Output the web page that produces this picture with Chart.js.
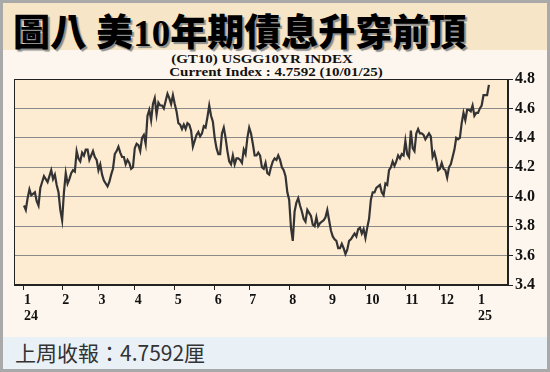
<!DOCTYPE html>
<html>
<head>
<meta charset="utf-8">
<script src="https://cdn.jsdelivr.net/npm/chart.js@4.4.1/dist/chart.umd.min.js"></script>
<style>
  html, body { margin: 0; padding: 0; background: #fff; }
  #frame { position: relative; width: 544px; height: 366px; border: 3px solid #a9a9a9; background: #fdf6ee; overflow: hidden; }
  #head { position: absolute; left: 0; top: 0; width: 544px; height: 47px; background: #f6e6c7; }
  #head h1 { margin: 0; position: absolute; left: 10px; top: 0; line-height: 47px; white-space: nowrap;
    font: 900 37px "Liberation Serif", "Noto Sans CJK TC", serif; color: #000; text-shadow: 2px 2px 1px #8c8c8c; }
  .sub { position: absolute; white-space: nowrap; font: 700 15px/1 "Liberation Serif", serif; color: #111;
    transform: translateX(-50%) scaleY(0.85); }
  #wrap { position: absolute; left: 0; top: 47px; width: 544px; height: 287px; }
  #foot { position: absolute; left: 0; top: 334px; width: 544px; height: 32px; background: #e9f1f7; }
  #foot span { position: absolute; left: 12px; top: 0; line-height: 32px; font: 400 21px "Noto Sans CJK TC", sans-serif; color: #333; }
</style>
</head>
<body>
<div id="frame">
  <div id="head"><h1>圖八 美10年期債息升穿前頂</h1></div>
  <div class="sub" style="left:259px;top:49px;">(GT10) USGG10YR INDEX</div>
  <div class="sub" style="left:273px;top:62px;">Current Index : 4.7592 (10/01/25)</div>
  <div id="wrap"><canvas id="c" width="544" height="287"></canvas></div>
  <div id="foot"><span>上周收報：4.7592厘</span></div>
</div>
<script>
// daily closes, one array per month (trading days)
const jan24 = [3.94, 3.91, 3.99, 4.05, 4.01, 4.02, 4.03, 3.97, 3.94, 4.06, 4.10, 4.14, 4.12, 4.10, 4.14, 4.18, 4.12, 4.15, 4.08, 4.03, 3.91];
const feb24 = [3.84, 4.03, 4.16, 4.09, 4.12, 4.16, 4.18, 4.17, 4.31, 4.26, 4.24, 4.30, 4.28, 4.32, 4.32, 4.25, 4.28, 4.31, 4.27, 4.25];
const mar24 = [4.18, 4.22, 4.15, 4.11, 4.09, 4.07, 4.10, 4.15, 4.19, 4.29, 4.31, 4.34, 4.30, 4.27, 4.27, 4.22, 4.25, 4.23, 4.19, 4.20];
const apr24 = [4.33, 4.36, 4.35, 4.31, 4.40, 4.42, 4.36, 4.55, 4.59, 4.52, 4.63, 4.67, 4.56, 4.64, 4.62, 4.62, 4.60, 4.65, 4.70, 4.67, 4.63, 4.69];
const may24 = [4.63, 4.58, 4.50, 4.49, 4.46, 4.49, 4.46, 4.50, 4.49, 4.45, 4.34, 4.38, 4.42, 4.44, 4.41, 4.43, 4.48, 4.47, 4.54, 4.62, 4.55, 4.51];
const jun24 = [4.40, 4.33, 4.29, 4.29, 4.43, 4.47, 4.40, 4.31, 4.24, 4.22, 4.28, 4.22, 4.26, 4.26, 4.25, 4.23, 4.32, 4.29, 4.40];
const jul24 = [4.47, 4.43, 4.36, 4.28, 4.28, 4.30, 4.28, 4.20, 4.19, 4.23, 4.16, 4.15, 4.20, 4.24, 4.26, 4.25, 4.28, 4.25, 4.20, 4.18, 4.14, 4.03];
const aug24 = [3.98, 3.79, 3.70, 3.90, 3.96, 3.99, 3.94, 3.90, 3.85, 3.83, 3.91, 3.89, 3.87, 3.81, 3.80, 3.86, 3.80, 3.82, 3.83, 3.84, 3.86, 3.91];
const sep24 = [3.84, 3.77, 3.73, 3.71, 3.70, 3.65, 3.65, 3.68, 3.65, 3.61, 3.64, 3.70, 3.71, 3.73, 3.75, 3.73, 3.78, 3.79, 3.75, 3.78];
const oct24 = [3.72, 3.79, 3.85, 3.98, 4.03, 4.03, 4.06, 4.07, 4.08, 4.03, 4.01, 4.09, 4.08, 4.18, 4.20, 4.24, 4.21, 4.24, 4.28, 4.26, 4.29, 4.28];
const nov24 = [4.38, 4.29, 4.27, 4.45, 4.33, 4.31, 4.43, 4.46, 4.43, 4.43, 4.42, 4.39, 4.41, 4.43, 4.41, 4.27, 4.30, 4.25, 4.18];
const dec24 = [4.19, 4.23, 4.19, 4.18, 4.13, 4.20, 4.22, 4.27, 4.32, 4.40, 4.39, 4.40, 4.50, 4.57, 4.52, 4.59, 4.59, 4.58, 4.62, 4.55, 4.57];
const jan25 = [4.57, 4.60, 4.62, 4.69, 4.69, 4.69, 4.76];

const monthLabels = ['1', '2', '3', '4', '5', '6', '7', '8', '9', '10', '11', '12', '1'];
const yearLabels = ['24', '', '', '', '', '', '', '', '', '', '', '', '25'];
const yTicks = [3.4, 3.6, 3.8, 4.0, 4.2, 4.4, 4.6, 4.8];

const months = [jan24, feb24, mar24, apr24, may24, jun24, jul24, aug24, sep24, oct24, nov24, dec24, jan25];
const monthStarts = [];
const points = [];
months.forEach(m => {
  monthStarts.push(points.length);
  m.forEach(v => points.push({ x: points.length, y: v }));
});

const plotFrame = {
  id: 'plotFrame',
  beforeDraw(chart) {
    const { ctx, chartArea: a } = chart;
    ctx.save();
    ctx.fillStyle = '#fdebd2';
    ctx.fillRect(a.left, a.top, a.width, a.height);
    ctx.restore();
  },
  afterDraw(chart) {
    const { ctx, chartArea: a } = chart;
    ctx.save();
    ctx.strokeStyle = '#222';
    ctx.lineWidth = 1;
    ctx.strokeRect(a.left + 0.5, a.top + 0.5, a.width - 1, a.height - 1);
    ctx.restore();
  }
};

const serif = 'Liberation Serif';

new Chart(document.getElementById('c'), {
  type: 'line',
  data: {
    datasets: [{
      data: points,
      borderColor: '#333',
      borderWidth: 2.2,
      pointRadius: 0,
      tension: 0
    }]
  },
  options: {
    responsive: false,
    animation: false,
    devicePixelRatio: 1,
    layout: { padding: { left: 11, top: 29, right: 0, bottom: 0 } },
    plugins: { legend: { display: false }, tooltip: { enabled: false } },
    scales: {
      x: {
        type: 'linear',
        min: -5.5,
        max: 266.5,
        afterBuildTicks: axis => { axis.ticks = monthStarts.map(v => ({ value: v })); },
        afterFit: s => { s.height = 52; },
        grid: { drawOnChartArea: false, drawTicks: true, tickLength: 5, tickColor: '#222' },
        border: { color: '#222' },
        ticks: {
          autoSkip: false,
          maxRotation: 0,
          align: 'start',
          padding: 2,
          color: '#111',
          font: { family: serif, weight: 'bold', size: 14, lineHeight: 1.15 },
          callback: (v, i) => yearLabels[i] ? [monthLabels[i], yearLabels[i]] : monthLabels[i]
        }
      },
      y: {
        position: 'right',
        min: 3.4,
        max: 4.8,
        afterBuildTicks: axis => { axis.ticks = yTicks.map(v => ({ value: v })); },
        afterFit: s => { s.width = 39; },
        grid: { color: '#8a8a8a', borderDash: [1, 3], tickColor: '#222', tickLength: 5, tickBorderDash: [] },
        border: { color: '#222' },
        ticks: {
          padding: 2,
          color: '#111',
          font: { family: serif, weight: 'bold', size: 16 },
          callback: v => v.toFixed(1)
        }
      }
    }
  },
  plugins: [plotFrame]
});
</script>
</body>
</html>
